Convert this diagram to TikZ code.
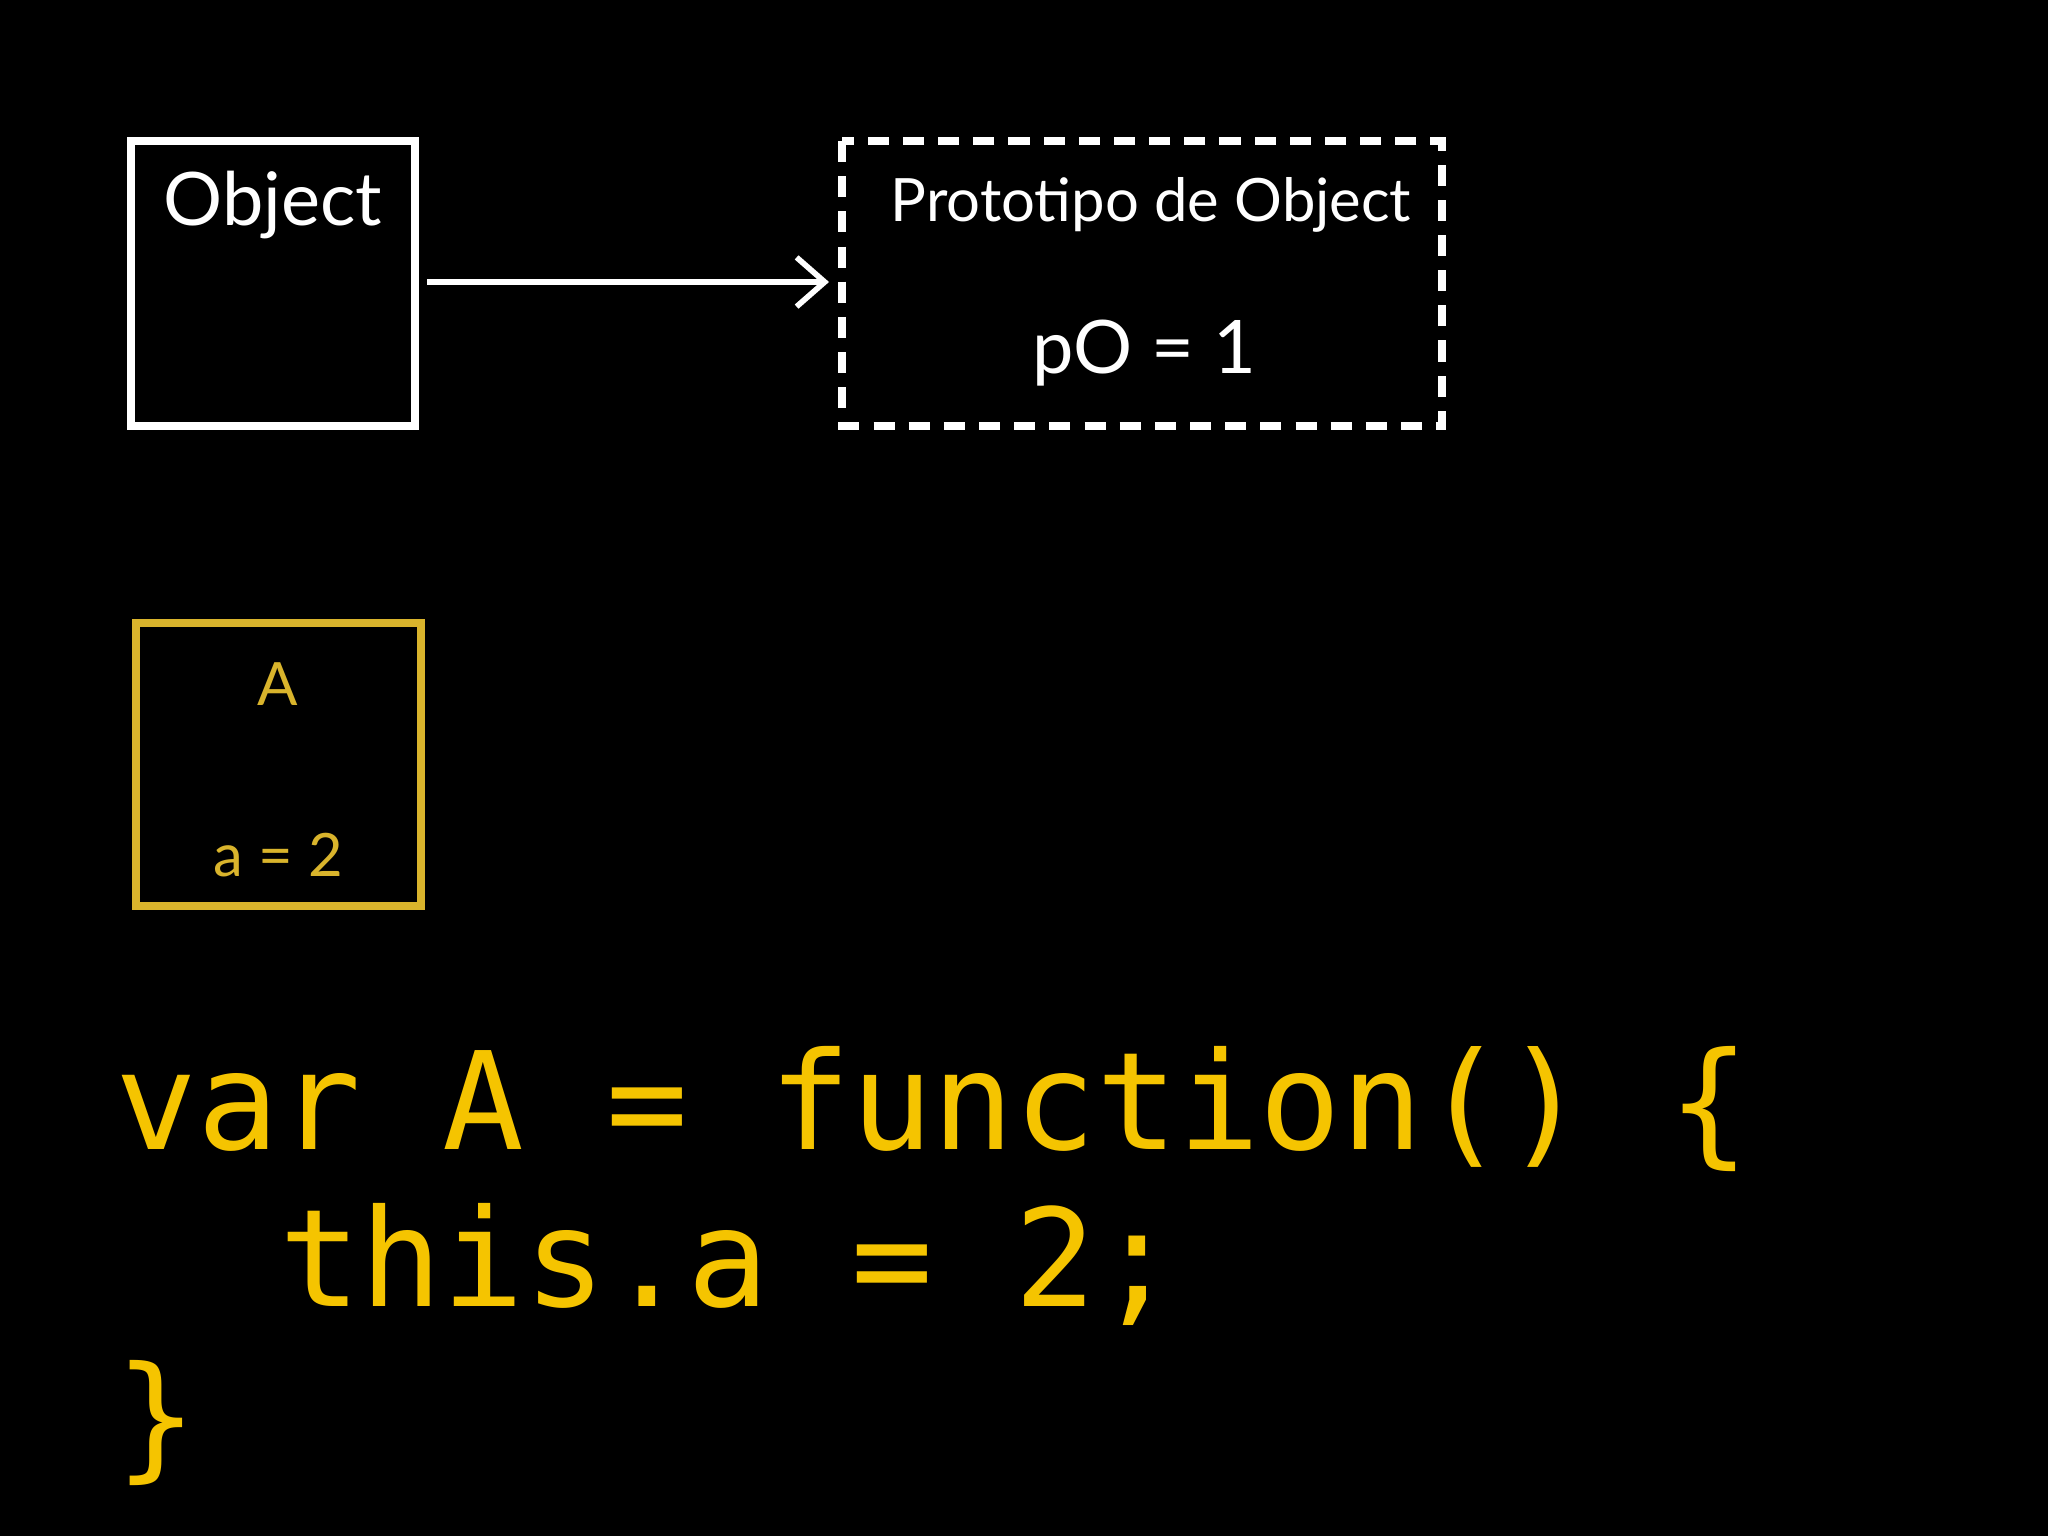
\documentclass[tikz,border=0pt]{standalone}
\usepackage{fontspec}
\usetikzlibrary{arrows.meta}
\setmainfont{Lato}
\newfontfamily\codefont{DejaVu Sans Mono}
\definecolor{gold}{HTML}{F5C400}
\definecolor{boxgold}{HTML}{D9B42C}
\begin{document}
\begin{tikzpicture}[x=0.01cm,y=-0.01cm,
  wbox/.style={draw=white,line width=2.4pt},
  code/.style={anchor=base west,inner sep=0,text=gold,font=\codefont\fontsize{38.6}{40}\selectfont}]
\fill[black] (0,0) rectangle (2048,1536);
\useasboundingbox (0,0) rectangle (2048,1536);
\draw[wbox] (131,141) rectangle (415,426);
\coordinate (objr) at (427,282);
\node[text=white,font=\fontsize{21}{24}\selectfont] (obj) at (273,205) {Object};
\draw[wbox,dashed,dash pattern=on 6pt off 4pt] (842,141) rectangle (1442,426);
\coordinate (protl) at (829,282);
\node[text=white,font=\fontsize{17}{20}\selectfont] (prot) at (1151,205) {Prototipo de Object};
\node[text=white,font=\fontsize{21}{24}\selectfont] (po) at (1144,353) {pO = 1};
\draw[white,line width=1.6pt,-{Straight Barb[length=8pt,width=14pt]}] (objr) -- (protl);
\draw[draw=boxgold,line width=2.4pt] (136,623) rectangle (421,906);
\node[text=boxgold,font=\fontsize{17}{20}\selectfont] (A) at (278,684) {A};
\node[text=boxgold,font=\fontsize{17}{20}\selectfont] (a) at (278,855) {a = 2};
\node[code] (l1) at (115,1149) {var A = function() \{};
\node[code] (l2) at (115,1306) {\ \ this.a = 2;};
\node[code] (l3) at (115,1463) {\}};
\end{tikzpicture}
\end{document}
